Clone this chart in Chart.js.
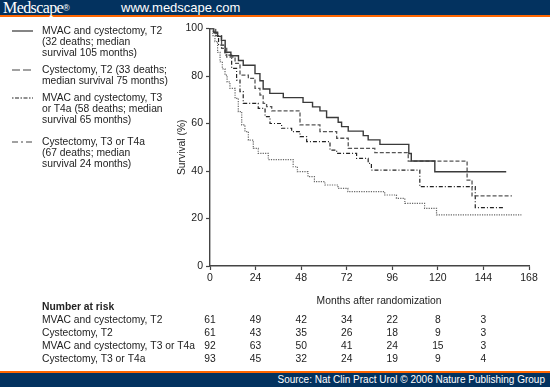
<!DOCTYPE html>
<html>
<head>
<meta charset="utf-8">
<title>Survival by treatment and stage</title>
<script src="https://cdn.jsdelivr.net/npm/chart.js@4/dist/chart.umd.min.js"></script>
<style>
    body {
        margin: 0;
        width: 550px;
        height: 387px;
        position: relative;
        overflow: hidden;
        background: #fff;
        font-family: "Liberation Sans", Arial, sans-serif;
        color: #222;
    }
    #topBar {
        position: absolute; left: 0; top: 0; width: 550px; height: 15px;
        background: #03325f; border-bottom: 2.5px solid #ff6600;
    }
    #brand {
        position: absolute; left: 3px; top: -1px; color: #fff;
        font-family: "Liberation Serif", "DejaVu Serif", serif; font-size: 16px; letter-spacing: -0.6px;
    }
    #brand sup { font-size: 9px; font-family: "Liberation Sans", Arial, sans-serif; vertical-align: 2px; }
    #site { position: absolute; left: 121px; top: 0px; color: #fff; font-size: 13px; }
    #bottomBar {
        position: absolute; left: 0; top: 371px; width: 550px; height: 14px;
        background: #03325f; border-top: 2px solid #ff6600;
    }
    #source { position: absolute; right: 5px; top: 1px; color: #fff; font-size: 10px; }
    #chartBox { position: absolute; left: 0; top: 0; width: 550px; height: 387px; }
    .legendItem { position: absolute; left: 42px; font-size: 10.3px; line-height: 11px; }
    .legendLine { position: absolute; left: 12px; width: 22px; height: 4px; }
</style>
</head>
<body>
<div id="topBar"><span id="brand">Medscape<sup>®</sup></span><span id="site">www.medscape.com</span></div>

<div id="chartBox"><canvas id="survivalChart" width="550" height="387"></canvas></div>

<!-- legend on the left -->
<svg class="legendLine" style="top:29px" width="22" height="4"><line x1="0" y1="2" x2="21" y2="2" stroke="#333" stroke-width="1.2"/></svg>
<div class="legendItem" style="top:25px">MVAC and cystectomy, T2<br>(32 deaths; median<br>survival 105 months)</div>

<svg class="legendLine" style="top:68px" width="22" height="4"><line x1="0" y1="2" x2="21" y2="2" stroke="#444" stroke-width="1.2" stroke-dasharray="8,3"/></svg>
<div class="legendItem" style="top:64px">Cystectomy, T2 (33 deaths;<br>median survival 75 months)</div>

<svg class="legendLine" style="top:96px" width="22" height="4"><line x1="0" y1="2" x2="21" y2="2" stroke="#222" stroke-width="1.2" stroke-dasharray="1.5,1.5,4,1.5"/></svg>
<div class="legendItem" style="top:92px">MVAC and cystectomy, T3<br>or T4a (58 deaths; median<br>survival 65 months)</div>

<svg class="legendLine" style="top:140px" width="22" height="4"><line x1="0" y1="2" x2="21" y2="2" stroke="#444" stroke-width="1.2" stroke-dasharray="6,3,2,3"/></svg>
<div class="legendItem" style="top:136px">Cystectomy, T3 or T4a<br>(67 deaths; median<br>survival 24 months)</div>

<div id="bottomBar"><span id="source">Source: Nat Clin Pract Urol © 2006 Nature Publishing Group</span></div>

<script>
// Kaplan-Meier curves, [months, survival %]
const mvacT2 = [
    [0, 100], [2, 98.4], [4, 96.7], [6, 95], [8, 90], [11, 88.5], [15, 86.5], [17.5, 84.5],
    [23.7, 81], [26.3, 78], [28, 74.5], [31.5, 72.7], [38.6, 70.9], [49, 68.9], [54, 67],
    [57.9, 65.3], [61.4, 62.5], [67.5, 60.5], [69.3, 58.7], [72.8, 56.8], [80.7, 54.9],
    [83.3, 53.1], [89.5, 51.2], [104.7, 47.4], [106, 44.2], [118.4, 39.7], [156, 39.7]
];
const cystT2 = [
    [0, 100], [3, 97], [6.1, 91.6], [8.8, 88], [13.2, 85.3], [15.8, 80.4], [20.2, 79],
    [23.7, 74.8], [26.3, 72], [28, 68.5], [29.8, 67.1], [32.5, 65.3], [47.4, 59.4],
    [57.9, 56.6], [66.7, 53.8], [72.8, 49.5], [86.8, 47.7], [104.4, 44.2], [135.4, 36.2],
    [138, 29.5], [159, 29.5]
];
const mvacT3 = [
    [0, 100], [2, 98], [4.5, 93], [7.9, 88.8], [11.4, 83.2], [14, 78.3], [15.8, 73.4],
    [17.5, 68.5], [25.4, 66.4], [29, 62.9], [31.6, 60], [37.7, 58], [43, 56.6], [47.4, 54.5],
    [50.9, 52.4], [63.2, 48.8], [66.7, 47.4], [77.2, 45.3], [83.3, 43.2], [85, 40.4],
    [110.5, 33.4], [139.7, 24.6], [155, 24.6]
];
const cystT3 = [
    [0, 100], [1.5, 97], [2.6, 94.5], [4, 90], [5.3, 86], [6.5, 83], [7.9, 80.4], [9, 77.5],
    [10.5, 74.8], [13.2, 70.6], [14.9, 65], [16.7, 59.4], [18.4, 56.6], [20.2, 53],
    [22.8, 49.5], [25.4, 47.4], [30.7, 44.8], [43.8, 41.8], [46, 39.7], [51.6, 37.6],
    [55, 35.5], [60.5, 34.1], [67.4, 32.7], [72.6, 31.3], [92, 29.9], [98.2, 28.5],
    [102.6, 26.4], [113, 24.3], [119.3, 21.5], [164, 21.5]
];

// number at risk table
const riskMonths = [0, 24, 48, 72, 96, 120, 144];
const riskLabels = ['MVAC and cystectomy, T2', 'Cystectomy, T2', 'MVAC and cystectomy, T3 or T4a', 'Cystectomy, T3 or T4a'];
const riskMvacT2 = [61, 49, 42, 34, 22, 8, 3];
const riskCystT2 = [61, 43, 35, 26, 18, 9, 3];
const riskMvacT3 = [92, 63, 50, 41, 24, 15, 3];
const riskCystT3 = [93, 45, 32, 24, 19, 9, 4];

const FONT = '"Liberation Sans", Arial, sans-serif';

function toPoints(arr) {
    return arr.map(p => ({ x: p[0], y: p[1] }));
}

// draws the "Number at risk" table under the x axis, columns follow the x scale
const riskTablePlugin = {
    id: 'riskTable',
    afterDraw(chart) {
        const ctx = chart.ctx;
        const xScale = chart.scales.x;
        const rows = [riskMvacT2, riskCystT2, riskMvacT3, riskCystT3];
        ctx.save();
        ctx.fillStyle = '#222';
        ctx.textBaseline = 'middle';

        ctx.font = '10.3px ' + FONT;
        ctx.textAlign = 'center';
        ctx.fillText('Months after randomization', 379, 301);

        ctx.font = 'bold 10.3px ' + FONT;
        ctx.textAlign = 'left';
        ctx.fillText('Number at risk', 42, 307);

        ctx.font = '10.3px ' + FONT;
        rows.forEach((row, r) => {
            const y = 320.5 + r * 13;
            ctx.textAlign = 'left';
            ctx.fillText(riskLabels[r], 42, y);
            ctx.textAlign = 'center';
            row.forEach((n, i) => {
                ctx.fillText(String(n), xScale.getPixelForValue(riskMonths[i]), y);
            });
        });
        ctx.restore();
    }
};

const ctx = document.getElementById('survivalChart');
new Chart(ctx, {
    type: 'line',
    data: {
        datasets: [
            { label: 'MVAC and cystectomy, T2', data: toPoints(mvacT2), borderColor: '#3a3a3a', borderWidth: 1.4 },
            { label: 'Cystectomy, T2', data: toPoints(cystT2), borderColor: '#555', borderWidth: 1.3, borderDash: [4, 2] },
            { label: 'MVAC and cystectomy, T3 or T4a', data: toPoints(mvacT3), borderColor: '#222', borderWidth: 1.2, borderDash: [4, 2, 1, 2] },
            { label: 'Cystectomy, T3 or T4a', data: toPoints(cystT3), borderColor: '#666', borderWidth: 1.2, borderDash: [1.2, 1.2] }
        ]
    },
    options: {
        responsive: false,
        animation: false,
        devicePixelRatio: 1,
        layout: { padding: { left: 170, right: 21, top: 28.5, bottom: 0 } },
        elements: {
            line: { stepped: 'before', fill: false, tension: 0 },
            point: { radius: 0 }
        },
        plugins: {
            legend: { display: false },
            tooltip: { enabled: false }
        },
        scales: {
            x: {
                type: 'linear',
                min: 0,
                max: 168,
                afterFit: scale => { scale.height = 121; },
                grid: { drawOnChartArea: false, tickLength: 4, color: '#444', tickWidth: 1.2 },
                border: { color: '#444', width: 1.4 },
                ticks: { stepSize: 24, padding: 2, color: '#222', font: { family: FONT, size: 10.5 } }
            },
            y: {
                min: 0,
                max: 100,
                afterFit: scale => { scale.width = 40; },
                grid: { drawOnChartArea: false, tickLength: 4, color: '#444', tickWidth: 1.2 },
                border: { color: '#444', width: 1.4 },
                ticks: { stepSize: 20, padding: 3, color: '#222', font: { family: FONT, size: 10.5 } },
                title: {
                    display: true,
                    text: 'Survival (%)',
                    color: '#222',
                    padding: { top: 6, bottom: 0 },
                    font: { family: FONT, size: 10.3 }
                }
            }
        }
    },
    plugins: [riskTablePlugin]
});
</script>
</body>
</html>
